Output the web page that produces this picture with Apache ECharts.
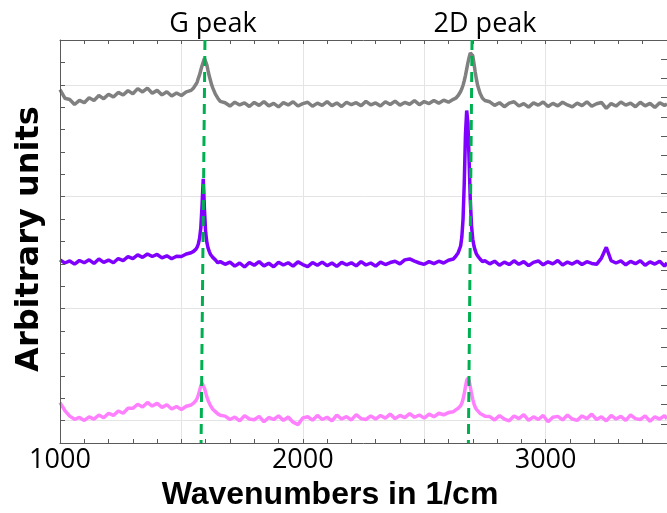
<!DOCTYPE html>
<html>
<head>
<meta charset="utf-8">
<script src="https://cdn.jsdelivr.net/npm/echarts@6/dist/echarts.min.js"></script>
<style>
html,body{margin:0;padding:0;background:#fff;}
#chart{width:667px;height:513px;}
</style>
</head>
<body>
<div id="chart"></div>
<script>
// Wavenumbers (1/cm)
const wavenumbers = [
1000,1020,1040,1060,1080,1100,1120,1140,1160,1180,1200,1220,1240,1260,1280,1300,1320,1340,1360,1380,1400,1420,1440,1460,1480,1500,1520,1540,
1550,1560,
1565,1570,1575,1580,1585,1590,1595,1600,1605,1610,1615,1620,1625,
1630,1640,1650,1660,
1680,1700,1720,1740,1760,1780,1800,1820,1840,1860,1880,1900,1920,1940,1960,1980,2000,2020,2040,2060,2080,2100,2120,2140,2160,2180,2200,2220,2240,2260,2280,2300,2320,2340,2360,2380,2400,2420,2440,2460,2480,2500,2520,2540,2560,2580,2600,2620,
2630,2640,2650,
2655,2660,2665,2670,2675,2680,2685,2690,2695,2700,2705,2710,2715,
2720,2730,2740,2750,
2770,2790,2810,2830,2850,2870,2890,2910,2930,2950,2970,2990,3010,3030,3050,3070,3090,3110,3130,3150,3170,3190,3210,3230,3250,3270,3290,3310,3330,3350,3370,3390,3410,3430,3450,3470,3490,3500
];

// Grey spectrum (top)
const greySpectrum = [
15.78,15.40,15.34,15.12,15.30,15.20,15.42,15.30,15.52,15.38,15.58,15.45,15.66,15.54,15.74,15.60,15.83,15.68,15.85,15.62,15.75,15.55,15.69,15.50,15.63,15.52,15.68,15.75,
15.86,16.02,
16.12,16.30,16.45,16.66,16.85,17.02,17.18,17.10,16.88,16.62,16.38,16.18,15.98,
15.84,15.58,15.40,15.26,
15.20,15.05,15.22,15.10,15.19,15.03,15.21,15.08,15.25,15.06,15.17,15.01,15.20,15.10,15.24,15.05,15.16,15.22,15.04,15.18,15.08,15.25,15.07,15.19,15.03,15.22,15.11,15.20,15.06,15.26,15.10,15.19,15.05,15.24,15.12,15.27,15.09,15.21,15.13,15.29,15.11,15.25,15.16,15.30,15.18,15.31,15.22,15.35,
15.40,15.52,15.70,
15.82,15.98,16.18,16.42,16.70,16.98,17.22,17.42,17.50,17.30,16.95,16.58,16.25,
15.98,15.62,15.40,15.30,
15.24,15.08,15.20,15.02,15.18,15.24,15.05,15.16,15.00,15.19,15.09,15.23,15.03,15.17,15.06,15.22,15.10,15.01,15.18,15.07,15.24,15.04,15.15,15.21,14.95,15.16,15.05,15.23,15.09,15.18,15.02,15.22,15.06,15.17,14.99,15.20,15.08,15.14
];

// Purple spectrum (middle)
const purpleSpectrum = [
8.18,8.04,8.13,7.99,8.15,8.05,8.18,8.02,8.22,8.07,8.17,8.05,8.24,8.15,8.32,8.23,8.40,8.29,8.44,8.33,8.42,8.27,8.36,8.23,8.34,8.33,8.44,8.50,
8.56,8.66,
8.75,8.90,9.15,9.62,10.60,11.80,10.40,9.40,8.95,8.70,8.55,8.42,8.34,
8.28,8.18,8.05,8.10,
7.98,8.08,7.90,8.04,7.86,8.06,7.94,8.10,7.91,8.03,7.87,8.07,7.95,8.05,7.90,8.09,7.97,7.88,8.06,7.94,8.08,7.92,8.04,7.89,8.07,7.96,8.05,7.91,8.10,7.95,8.04,7.90,8.08,7.97,8.06,8.12,8.00,8.18,8.22,8.12,8.04,7.98,8.10,8.01,8.12,8.04,8.16,8.22,
8.34,8.50,8.80,
9.20,10.00,11.60,13.80,14.85,14.30,12.60,10.80,9.70,9.10,8.80,8.60,8.45,
8.36,8.22,8.10,8.14,
8.00,8.12,7.94,8.08,7.97,8.14,7.98,8.10,7.92,8.07,8.13,7.96,8.09,8.00,8.15,7.95,8.08,7.99,8.12,7.97,8.10,8.02,7.98,8.26,8.74,8.14,8.04,8.13,7.96,8.11,8.01,8.14,7.94,8.09,7.99,8.12,7.90,8.05
];

// Pink spectrum (bottom)
const pinkSpectrum = [
1.80,1.45,1.20,1.06,1.14,1.01,1.17,1.07,1.25,1.13,1.33,1.23,1.43,1.33,1.55,1.55,1.73,1.61,1.81,1.65,1.77,1.59,1.71,1.52,1.63,1.50,1.64,1.70,
1.78,1.90,
2.00,2.15,2.35,2.55,2.68,2.62,2.45,2.25,2.05,1.90,1.78,1.66,1.58,
1.50,1.40,1.30,1.24,
1.20,1.05,1.16,0.99,1.22,1.07,1.04,1.19,0.95,1.14,1.05,1.21,1.01,1.16,0.93,0.82,1.12,1.17,1.02,1.23,1.05,1.15,0.99,1.25,1.07,1.18,1.03,1.27,1.09,1.05,1.21,1.07,1.23,1.11,1.29,1.09,1.23,1.13,1.31,1.15,1.25,1.11,1.29,1.17,1.33,1.26,1.36,1.40,
1.48,1.55,1.66,
1.78,1.95,2.20,2.52,2.80,2.90,2.78,2.50,2.20,1.95,1.75,1.60,1.50,
1.42,1.32,1.26,1.20,
1.18,1.03,1.22,1.07,0.99,1.21,1.09,1.27,1.01,1.17,1.05,1.23,0.95,1.15,1.19,1.03,1.25,1.07,1.01,1.21,1.09,1.29,1.05,1.17,0.99,1.23,1.07,1.19,1.01,1.25,1.09,1.05,1.21,0.97,1.17,1.07,1.22,1.08
];

// Dashed peak marker lines (top point, bottom point)
const gPeakLineX = [1597, 1581];
const d2PeakLineX = [2697, 2682];
const peakLineY = [18, 0];
const peakLabels = ['G peak', '2D peak'];

// Tick labels shown on the x axis
const xTickLabels = [1000, 2000, 3000];

const xTitle = 'Wavenumbers in 1/cm';
const yTitle = 'Arbitrary units';

function pairs(xs, ys) { return xs.map((x, i) => [x, ys[i]]); }

const chart = echarts.init(document.getElementById('chart'), null, {renderer: 'canvas'});

const axisColor = '#5a5a5a';
const gridColor = '#e4e4e4';

function peakLine(xs, label, offX) {
  return {
    type: 'line',
    xAxisIndex: 0, yAxisIndex: 0,
    symbol: 'circle', symbolSize: 0, showSymbol: true,
    lineStyle: {color: '#00b050', width: 3, type: [10, 6]},
    itemStyle: {color: '#00b050'},
    z: 5,
    clip: false,
    data: [
      {value: [xs[0], peakLineY[0]], label: {show: true, position: 'top', distance: 2, offset: [offX, 0], formatter: label,
        fontFamily: 'Open Sans', fontSize: 27, color: '#000'}},
      {value: [xs[1], peakLineY[1]]}
    ]
  };
}

const option = {
  animation: false,
  backgroundColor: '#ffffff',
  grid: {left: 60, right: 0, top: 40, bottom: 70, containLabel: false, outerBoundsMode: 'none'},
  xAxis: [
    {
      type: 'value', min: 1000, max: 3500, interval: 100, position: 'bottom', z: 3,
      axisLine: {show: true, onZero: false, lineStyle: {color: axisColor, width: 1}},
      axisTick: {show: true, inside: true, length: 4, lineStyle: {color: axisColor}},
      axisLabel: {
        formatter: v => xTickLabels.includes(v) ? String(v) : '',
        fontFamily: 'Open Sans', fontSize: 27, color: '#000', margin: 4,
        showMaxLabel: false, hideOverlap: false
      },
      splitLine: {show: false}
    },
    {
      type: 'value', min: 1000, max: 3500, interval: 100, position: 'top', z: 3,
      axisLine: {show: true, onZero: false, lineStyle: {color: axisColor, width: 1}},
      axisTick: {show: true, inside: true, length: 4, lineStyle: {color: axisColor}},
      axisLabel: {show: false},
      splitLine: {show: false}
    },
    {
      type: 'value', min: 1000, max: 3500, interval: 500, position: 'bottom', z: 0,
      axisLine: {show: false, onZero: false}, axisTick: {show: false}, axisLabel: {show: false},
      splitLine: {show: true, lineStyle: {color: gridColor, width: 1}}
    }
  ],
  yAxis: [
    {
      type: 'value', min: 0, max: 18, interval: 1, position: 'left', z: 3,
      axisLine: {show: true, onZero: false, lineStyle: {color: axisColor, width: 1}},
      axisTick: {show: true, inside: true, length: 5, lineStyle: {color: axisColor}},
      axisLabel: {show: false},
      splitLine: {show: false}
    },
    {
      type: 'value', min: 0, max: 21, interval: 1, position: 'right', z: 3,
      axisLine: {show: false, onZero: false},
      axisTick: {show: true, inside: true, length: 6, lineStyle: {color: axisColor}},
      axisLabel: {show: false},
      splitLine: {show: false}
    },
    {
      type: 'value', min: -1, max: 17, splitNumber: 4, position: 'left', z: 0,
      axisLine: {show: false, onZero: false}, axisTick: {show: false}, axisLabel: {show: false},
      splitLine: {show: true, lineStyle: {color: gridColor, width: 1}}
    }
  ],
  graphic: [
    {type: 'text', x: 330, y: 495, z: 10,
      style: {text: xTitle, font: 'bold 32px "Liberation Sans"', fill: '#000', textAlign: 'center', textVerticalAlign: 'middle'}},
    {type: 'text', x: 30, y: 239, rotation: Math.PI / 2, z: 10,
      style: {text: yTitle, font: 'bold 32px "DejaVu Sans"', fill: '#000', textAlign: 'center', textVerticalAlign: 'middle'}}
  ],
  series: [
    {type: 'line', name: 'grey', data: pairs(wavenumbers, greySpectrum), showSymbol: false, symbol: 'none',
      lineStyle: {color: '#808080', width: 3.5}, z: 2},
    {type: 'line', name: 'purple', data: pairs(wavenumbers, purpleSpectrum), showSymbol: false, symbol: 'none',
      lineStyle: {color: '#7f00ff', width: 3.5}, z: 2},
    {type: 'line', name: 'pink', data: pairs(wavenumbers, pinkSpectrum), showSymbol: false, symbol: 'none',
      lineStyle: {color: '#ff80ff', width: 3.5}, z: 2},
    peakLine(gPeakLineX, peakLabels[0], 8),
    peakLine(d2PeakLineX, peakLabels[1], 13)
  ]
};

chart.setOption(option);
</script>
</body>
</html>
